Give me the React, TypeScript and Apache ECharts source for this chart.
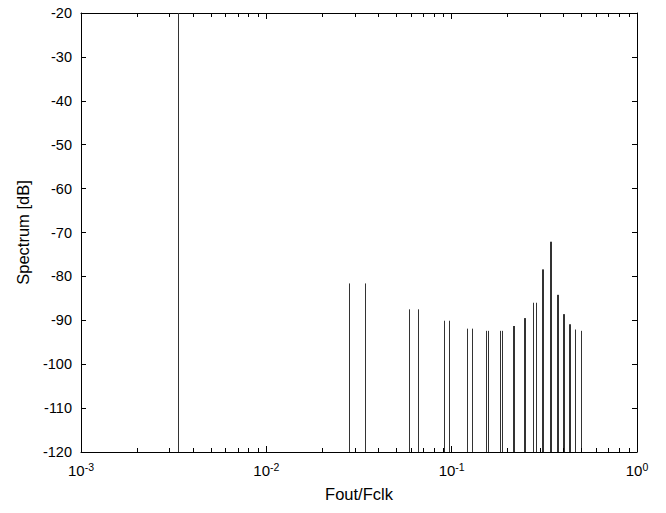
import React, { useEffect, useRef } from "react";
import * as echarts from "echarts";

// Spur frequencies (Fout/Fclk) and their levels in dB
const freqs = [
  0.00333, 0.0279, 0.0341, 0.0589, 0.0656, 0.0905, 0.0964, 0.1206, 0.1288,
  0.1533, 0.1572, 0.1824, 0.1878, 0.2135, 0.2165, 0.246, 0.2495, 0.276,
  0.2855, 0.3085, 0.3115, 0.339, 0.343, 0.3685, 0.3727, 0.3985, 0.403, 0.4315,
  0.4365, 0.465, 0.4974,
];
const levels = [
  -20, -81.6, -81.6, -87.5, -87.5, -90.1, -90.1, -91.9, -91.9, -92.4, -92.4,
  -92.4, -92.4, -91.3, -91.3, -89.5, -89.5, -86, -86, -78.4, -78.4, -72.1,
  -72.1, -84.2, -84.2, -88.6, -88.6, -90.9, -90.9, -92.1, -92.4,
];
const decades = [-3, -2, -1];
const minorMultipliers = [2, 3, 4, 5, 6, 7, 8, 9];
const yMin = -120;
const yMax = -20;

const FONT = "'Liberation Sans', Arial, sans-serif";

export default function App() {
  const ref = useRef<HTMLDivElement>(null);
  useEffect(() => {
    if (!ref.current) return;
    const chart = echarts.init(ref.current, undefined, { renderer: "svg" });
    const spikeData = freqs.map((f, i) => [f, levels[i]]);
    const minorData: number[][] = [];
    decades.forEach((d) =>
      minorMultipliers.forEach((m) => minorData.push([m * Math.pow(10, d), yMin]))
    );
    const labelFmt = (v: number) => {
      const e = Math.round(Math.log10(v));
      return `{b|10}{s|${e}}`;
    };
    const snap = (x: number) => Math.round(x) + 0.5;
    chart.setOption({
      animation: false,
      backgroundColor: "#fff",
      grid: { left: 81, right: 29, top: 13, bottom: 61, containLabel: false },
      xAxis: [
        {
          type: "log",
          logBase: 10,
          min: 0.001,
          max: 1,
          position: "bottom",
          name: "Fout/Fclk",
          nameLocation: "middle",
          nameGap: 33,
          nameTextStyle: { fontFamily: FONT, fontSize: 16.5, color: "#000" },
          axisLine: { show: true, lineStyle: { color: "#000", width: 1 } },
          axisTick: { show: true, inside: true, length: 6, lineStyle: { color: "#000" } },
          splitLine: { show: false },
          minorTick: { show: false },
          axisLabel: {
            formatter: labelFmt,
            margin: 9,
            rich: {
              b: { fontFamily: FONT, fontSize: 15, color: "#000" },
              s: { fontFamily: FONT, fontSize: 10.5, color: "#000", padding: [0, 0, 7, 0] },
            },
          },
        },
        {
          type: "log",
          logBase: 10,
          min: 0.001,
          max: 1,
          position: "top",
          axisLine: { show: true, lineStyle: { color: "#000", width: 1 } },
          axisTick: { show: true, inside: true, length: 6, lineStyle: { color: "#000" } },
          axisLabel: { show: false },
          splitLine: { show: false },
        },
      ],
      yAxis: [
        {
          type: "value",
          min: yMin,
          max: yMax,
          interval: 10,
          position: "left",
          name: "Spectrum [dB]",
          nameLocation: "middle",
          nameGap: 50,
          nameTextStyle: { fontFamily: FONT, fontSize: 16.5, color: "#000" },
          axisLine: { show: true, lineStyle: { color: "#000", width: 1 } },
          axisTick: { show: true, inside: true, length: 5, lineStyle: { color: "#000" } },
          axisLabel: { fontFamily: FONT, fontSize: 14.5, color: "#000", margin: 9 },
          splitLine: { show: false },
        },
        {
          type: "value",
          min: yMin,
          max: yMax,
          interval: 10,
          position: "right",
          axisLine: { show: true, lineStyle: { color: "#000", width: 1 } },
          axisTick: { show: true, inside: true, length: 5, lineStyle: { color: "#000" } },
          axisLabel: { show: false },
          splitLine: { show: false },
        },
      ],
      series: [
        {
          type: "custom",
          name: "spectrum",
          xAxisIndex: 0,
          yAxisIndex: 0,
          data: spikeData,
          clip: true,
          renderItem: (params: any, api: any) => {
            const f = api.value(0);
            const v = api.value(1);
            const p0 = api.coord([f, yMin]);
            const p1 = api.coord([f, v]);
            const x = snap(p0[0]);
            return {
              type: "line",
              shape: { x1: x, y1: p0[1], x2: x, y2: p1[1] },
              style: { stroke: "#333", lineWidth: 1 },
            };
          },
        },
        {
          type: "custom",
          name: "minorTicks",
          xAxisIndex: 0,
          yAxisIndex: 0,
          data: minorData,
          silent: true,
          renderItem: (params: any, api: any) => {
            const f = api.value(0);
            const pb = api.coord([f, yMin]);
            const pt = api.coord([f, yMax]);
            const x = snap(pb[0]);
            return {
              type: "group",
              children: [
                {
                  type: "line",
                  shape: { x1: x, y1: pb[1], x2: x, y2: pb[1] - 4 },
                  style: { stroke: "#000", lineWidth: 1 },
                },
                {
                  type: "line",
                  shape: { x1: x, y1: pt[1], x2: x, y2: pt[1] + 4 },
                  style: { stroke: "#000", lineWidth: 1 },
                },
              ],
            };
          },
        },
      ],
    });
    return () => chart.dispose();
  }, []);
  return <div ref={ref} style={{ width: 666, height: 513, position: "absolute", left: 0, top: 0 }} />;
}
